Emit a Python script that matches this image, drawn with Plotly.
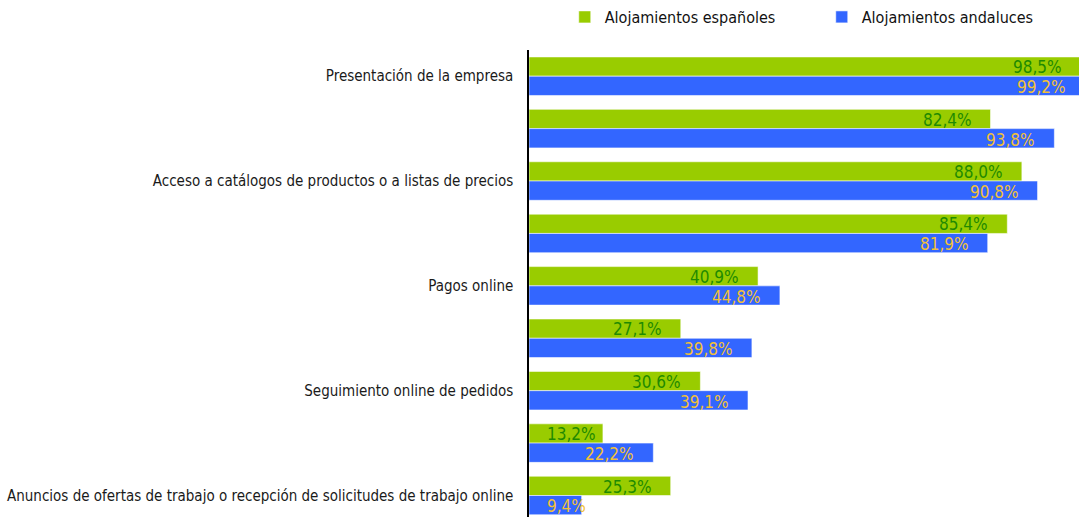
import plotly.graph_objects as go

# Categories from top to bottom; only every other one carries a visible label
category_labels = [
    "Presentación de la empresa",
    "",
    "Acceso a catálogos de productos o a listas de precios",
    "",
    "Pagos online",
    "",
    "Seguimiento online de pedidos",
    "",
    "Anuncios de ofertas de trabajo o recepción de solicitudes de trabajo online",
]
positions = list(range(len(category_labels)))

espanoles = [98.5, 82.4, 88.0, 85.4, 40.9, 27.1, 30.6, 13.2, 25.3]
andaluces = [99.2, 93.8, 90.8, 81.9, 44.8, 39.8, 39.1, 22.2, 9.4]

series_names = ["Alojamientos españoles", "Alojamientos andaluces"]
bar_colors = ["#99cc00", "#3366ff"]
label_colors = ["#1f8a00", "#f2c037"]

FONT = "DejaVu Sans Condensed, Liberation Sans Narrow, sans-serif"
X_MAX = 98.2  # visible end of the value axis

fig = go.Figure()
for name, vals, col in zip(series_names, [espanoles, andaluces], bar_colors):
    fig.add_trace(go.Bar(
        name=name, x=vals, y=positions, orientation="h",
        marker=dict(color=col, line=dict(color="rgba(255,255,255,0.55)", width=1)),
    ))

# Value labels: right-aligned just inside the bar end, pushed right when the bar is short.
# x is given as a fraction of the axis span so labels of bars running past the edge still show.
offset_idx = [-0.19, 0.19]
for k, (vals, lc) in enumerate(zip([espanoles, andaluces], label_colors)):
    for i, v in enumerate(vals):
        txt = f"{v:.1f}%".replace(".", ",")
        if v < 14:
            ann = dict(x=0, xanchor="left", xshift=16)
        else:
            ann = dict(x=v / X_MAX, xanchor="right", xshift=-17)
        fig.add_annotation(
            xref="paper", yref="y",
            y=i + offset_idx[k], yanchor="middle", yshift=-1, text=txt,
            showarrow=False, font=dict(family=FONT, size=17, color=lc),
            **ann,
        )

fig.update_layout(
    width=1079, height=517,
    margin=dict(l=529, r=0, t=50, b=0),
    paper_bgcolor="white", plot_bgcolor="white",
    barmode="group", bargap=0.265, bargroupgap=0,
    font=dict(family=FONT, size=15, color="#1a1a1a"),
    legend=dict(
        orientation="h", x=0.065, xanchor="left", y=1.0, yanchor="top",
        yref="container", entrywidth=212, entrywidthmode="pixels",
        font=dict(family=FONT, size=16, color="#111111"),
        bgcolor="rgba(0,0,0,0)",
    ),
    xaxis=dict(range=[0, X_MAX], showgrid=False, zeroline=False,
               showticklabels=False, showline=False, fixedrange=True),
    yaxis=dict(range=[8.41, -0.5], tickmode="array", tickvals=positions,
               ticktext=category_labels, showgrid=False, zeroline=False,
               showline=True, linecolor="black", linewidth=1.5,
               ticks="", ticklabelstandoff=11, automargin=False,
               tickfont=dict(family=FONT, size=15, color="#1a1a1a")),
)

fig.write_html("out.html")
